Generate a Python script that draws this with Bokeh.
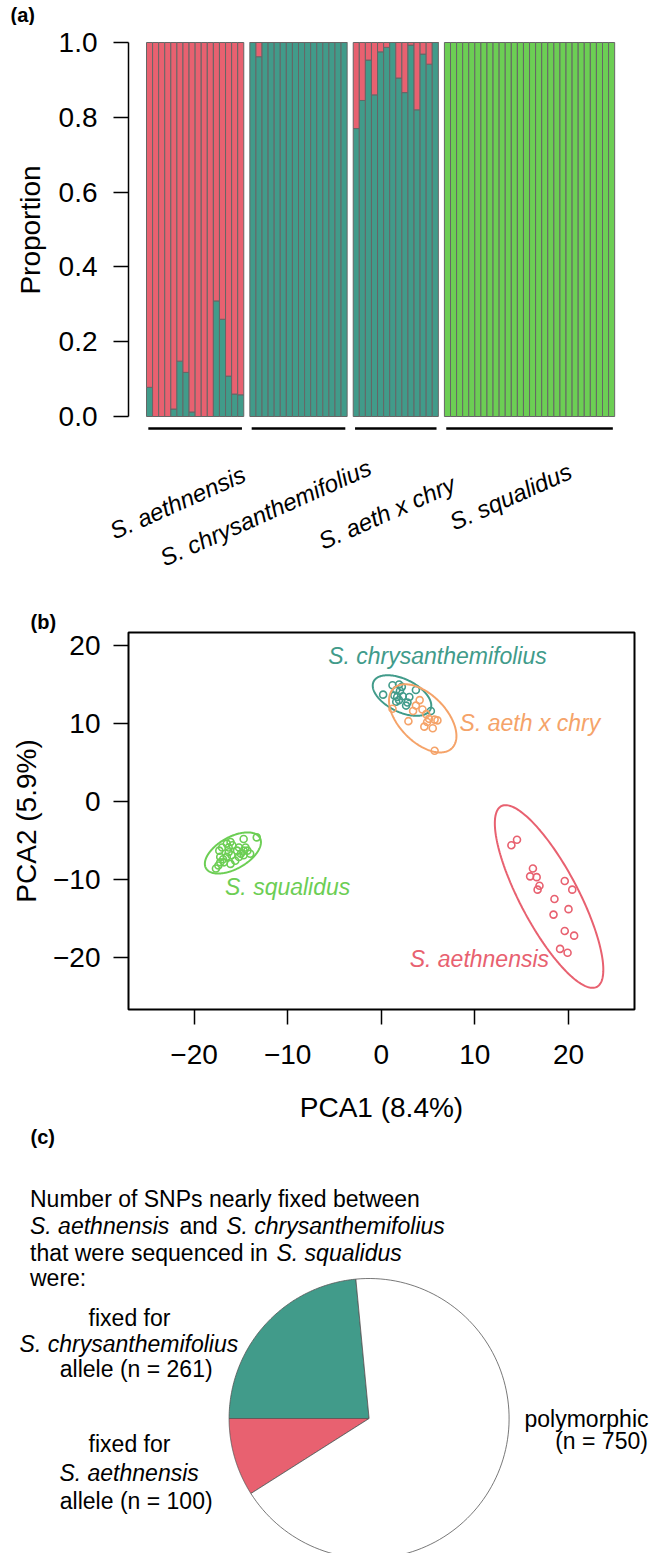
import numpy as np
from bokeh.plotting import figure
from bokeh.layouts import column
from bokeh.models import Range1d, FixedTicker, CustomJSTickFormatter, ColumnDataSource, Title
from bokeh.core.properties import value
from bokeh.embed import file_html
from bokeh.resources import INLINE

FONT = "Liberation Sans"
TEAL = "#419B8A"
RED = "#E86170"
GREEN = "#6CCE54"
ORANGE = "#F5A369"

# ---------------- data: panel (a) ----------------
group_names = ["S. aethnensis", "S. chrysanthemifolius", "S. aeth x chry", "S. squalidus"]
aeth_teal = [0.078, 0.0, 0.0, 0.0, 0.02, 0.148, 0.118, 0.012, 0.0, 0.0, 0.0, 0.309, 0.26, 0.108, 0.06, 0.058]
chry_teal = [1.0, 0.962, 1.0, 1.0, 1.0, 1.0, 1.0, 1.0, 1.0, 1.0, 1.0, 1.0, 1.0, 1.0, 1.0, 1.0]
hyb_teal = [0.77, 0.845, 0.953, 0.86, 0.975, 0.987, 1.0, 0.905, 0.866, 0.993, 0.82, 0.969, 0.942, 1.0]
squal_green = [1.0, 1.0, 1.0, 1.0, 1.0, 1.0, 1.0, 1.0, 1.0, 1.0, 1.0, 1.0, 1.0, 1.0,
               1.0, 1.0, 1.0, 1.0, 1.0, 1.0, 1.0, 1.0, 1.0, 1.0, 1.0, 1.0, 1.0, 1.0]
prop_ticks = [0.0, 0.2, 0.4, 0.6, 0.8, 1.0]

# ---------------- data: panel (b) ----------------
pc1_aeth = [13.9, 14.5, 16.2, 15.9, 16.6, 16.9, 16.7, 19.6, 20.4, 18.5, 18.4, 20.0, 19.6, 20.6, 19.1, 19.9]
pc2_aeth = [-5.6, -4.9, -8.6, -9.6, -9.7, -10.8, -11.3, -10.2, -11.3, -12.5, -14.5, -13.8, -16.6, -17.2, -18.9, -19.4]
pc1_chry = [0.2, 1.2, 1.9, 2.2, 1.6, 2.0, 3.7, 1.7, 2.3, 3.0, 2.8, 1.6, 2.65, 5.3, 1.9, 1.4]
pc2_chry = [13.7, 14.9, 15.0, 14.7, 14.3, 14.2, 14.3, 13.4, 13.5, 13.4, 12.7, 12.8, 12.3, 11.6, 13.0, 13.6]
pc1_hyb = [4.1, 3.7, 4.4, 3.4, 4.8, 5.1, 5.7, 6.0, 4.6, 5.5, 2.9, 5.7, 4.9, 1.2]
pc2_hyb = [13.0, 12.3, 11.8, 11.6, 11.2, 10.6, 10.5, 10.4, 9.6, 9.4, 10.3, 6.5, 10.2, 11.9]
pc1_squal = [-17.66, -17.4, -17.2, -17.3, -17.0, -16.5, -16.1, -16.3, -16.0, -15.6, -16.1, -16.8, -14.7, -14.5,
             -14.3, -15.0, -15.2, -14.7, -14.0, -13.3, -15.2, -16.3, -16.9, -17.2, -15.4, -15.9, -16.5, -14.7]
pc2_squal = [-8.6, -8.2, -7.1, -6.3, -5.9, -5.4, -5.2, -6.5, -6.9, -7.6, -8.0, -7.8, -4.8, -5.9,
             -6.3, -6.7, -7.1, -6.9, -6.7, -4.6, -5.9, -5.9, -7.4, -7.8, -6.3, -5.6, -7.1, -6.3]
pca_ticks = [-20, -10, 0, 10, 20]

# ---------------- data: panel (c) ----------------
pie_counts = [261, 100, 750]
pie_colors = [TEAL, RED, "#FFFFFF"]

# ---------------- layout constants (page pixels, page has no margin) ----------------
W = 660
FRAME_L, FRAME_R = 128, 634
SLOT_PX = 6.08
BAR_LEFT = 146
Y1_PX, Y0_PX = 42, 416
A0_BOT = 25              # strip with "(a)"
A1_BOT = 434             # bar frame bottom
A2_BOT = 600             # group labels strip bottom
B_FRAME_TOP, B_FRAME_BOT, B_BOT = 632, 1009, 1125
C_BOT = 1553


def blank(p):
    p.grid.visible = False
    p.outline_line_color = None


def txt(p, x, y, s, size="23px", style="normal", align="left", color="black", angle=0.0, dx=0):
    p.text(x=[x], y=[y], text=[s], text_font=value(FONT), text_font_size=size,
           text_font_style=style, text_align=align, text_baseline="middle",
           text_color=color, angle=angle, x_offset=dx)


# ================= panel (a) =================
teal_parts = [aeth_teal, chry_teal, hyb_teal]
slot = 0
xs, tops, bottoms, colors = [], [], [], []
group_slots = []
for gi in range(4):
    first = slot
    if gi < 3:
        for v in teal_parts[gi]:
            xs += [slot, slot]
            bottoms += [0.0, v]
            tops += [v, 1.0]
            colors += [TEAL, RED]
            slot += 1
    else:
        for v in squal_green:
            xs.append(slot)
            bottoms.append(0.0)
            tops.append(v)
            colors.append(GREEN)
            slot += 1
    group_slots.append((first, slot - 1))
    slot += 1
n_slots = slot - 1
pxu = float(Y0_PX - Y1_PX)


def ax_(px):
    return (px - BAR_LEFT) / SLOT_PX - 0.5


def ay_(py):
    return (Y0_PX - py) / pxu


# strip with "(a)"
pa0 = figure(width=W, height=A0_BOT, x_range=Range1d(0, W), y_range=Range1d(A0_BOT, 0),
             min_border=0, toolbar_location=None, output_backend="svg",
             x_axis_location=None, y_axis_location=None)
blank(pa0)
txt(pa0, 10, 14, "(a)", size="20px", style="bold")

# bars
pa1 = figure(width=W, height=A1_BOT - A0_BOT,
             x_range=Range1d(ax_(FRAME_L), ax_(FRAME_R)),
             y_range=Range1d(ay_(A1_BOT), ay_(A0_BOT)),
             min_border_left=FRAME_L, min_border_right=W - FRAME_R,
             min_border_top=0, min_border_bottom=0,
             toolbar_location=None, output_backend="svg", x_axis_location=None)
blank(pa1)
src = ColumnDataSource(dict(x=xs, top=tops, bottom=bottoms, color=colors))
pa1.vbar(x="x", top="top", bottom="bottom", width=1.0, fill_color="color",
         line_color="#666666", line_width=1, source=src)
ya = pa1.yaxis[0]
ya.ticker = FixedTicker(ticks=prop_ticks)
ya.formatter = CustomJSTickFormatter(code="return tick.toFixed(1)")
ya.bounds = (0, 1)
ya.axis_line_width = 1.5
ya.axis_line_color = "black"
ya.major_tick_line_width = 1.5
ya.major_tick_line_color = "black"
ya.major_tick_out = 15
ya.major_tick_in = 0
ya.minor_tick_out = 0
ya.minor_tick_in = 0
ya.major_label_standoff = 16
ya.major_label_text_font = FONT
ya.major_label_text_font_size = "28px"
ya.major_label_text_color = "black"
ya.axis_label = "Proportion"
ya.axis_label_text_font = FONT
ya.axis_label_text_font_size = "28px"
ya.axis_label_text_font_style = "normal"
ya.axis_label_text_color = "black"
ya.axis_label_standoff = 10

seg_x0 = [g[0] - 0.5 + 0.3 for g in group_slots]
seg_x1 = [g[1] + 0.5 - 0.3 for g in group_slots]
pa1.segment(x0=seg_x0, x1=seg_x1, y0=[ay_(428)] * 4, y1=[ay_(428)] * 4,
            line_color="black", line_width=2.5)

# group labels strip (full width)
pa2 = figure(width=W, height=A2_BOT - A1_BOT, x_range=Range1d(ax_(0), ax_(W)),
             y_range=Range1d(A2_BOT, A1_BOT), min_border=0,
             toolbar_location=None, output_backend="svg",
             x_axis_location=None, y_axis_location=None)
blank(pa2)
centers = [(g[0] + g[1]) / 2 for g in group_slots]
label_dx = [-17.6, -33, -9, -19]
label_py = [502, 512, 512, 496]
for c, name, dx, py in zip(centers, group_names, label_dx, label_py):
    txt(pa2, c, py, name, size="24px", style="italic", align="center",
        angle=np.deg2rad(24), dx=dx)

# ================= panel (b) =================
bx0, bx1 = -27.0, 27.05
by0, by1 = -26.67, 21.67
pb = figure(width=W, height=B_BOT - A2_BOT, x_range=Range1d(bx0, bx1), y_range=Range1d(by0, by1),
            min_border_left=FRAME_L, min_border_right=W - FRAME_R,
            min_border_top=B_FRAME_TOP - A2_BOT, min_border_bottom=B_BOT - B_FRAME_BOT,
            toolbar_location=None, output_backend="svg")
pb.grid.visible = False
pb.outline_line_color = "black"
pb.outline_line_width = 2
tb = Title(text="(b)", align="left", offset=30 - FRAME_L, standoff=0,
           text_font=FONT, text_font_size="20px", text_font_style="bold", text_color="black")
pb.add_layout(tb, "above")
fmt = CustomJSTickFormatter(code="return tick < 0 ? '\u2212' + Math.abs(tick) : String(tick)")
for axis, text in ((pb.xaxis[0], "PCA1 (8.4%)"), (pb.yaxis[0], "PCA2 (5.9%)")):
    axis.ticker = FixedTicker(ticks=pca_ticks)
    axis.formatter = fmt
    axis.axis_line_color = None
    axis.major_tick_line_width = 1.5
    axis.major_tick_line_color = "black"
    axis.major_tick_out = 15
    axis.major_tick_in = 0
    axis.minor_tick_out = 0
    axis.minor_tick_in = 0
    axis.major_label_text_font = FONT
    axis.major_label_text_font_size = "28px"
    axis.major_label_text_color = "black"
    axis.axis_label = text
    axis.axis_label_text_font = FONT
    axis.axis_label_text_font_size = "28px"
    axis.axis_label_text_font_style = "normal"
    axis.axis_label_text_color = "black"
pb.xaxis[0].major_label_standoff = 20
pb.xaxis[0].axis_label_standoff = 25
pb.yaxis[0].major_label_standoff = 13
pb.yaxis[0].axis_label_standoff = 8

ELL_R = [2.714, 2.714, 2.759, 2.590]
groups_pca = [(pc1_aeth, pc2_aeth, RED), (pc1_chry, pc2_chry, TEAL),
              (pc1_hyb, pc2_hyb, ORANGE), (pc1_squal, pc2_squal, GREEN)]
t = np.linspace(0, 2 * np.pi, 200)
for (px, py, col), r in zip(groups_pca, ELL_R):
    pts = np.vstack([px, py])
    mu = pts.mean(axis=1)
    L = np.linalg.cholesky(np.cov(pts))
    e = mu[:, None] + r * (L @ np.vstack([np.cos(t), np.sin(t)]))
    pb.line(e[0], e[1], line_color=col, line_width=2)
    pb.scatter(px, py, marker="circle", size=7, fill_color=None, line_color=col, line_width=1.6)

pca_labels = [("S. chrysanthemifolius", 6.0, 18.7, TEAL, "center"),
              ("S. aeth x chry", 8.37, 10.04, ORANGE, "left"),
              ("S. squalidus", -16.69, -10.9, GREEN, "left"),
              ("S. aethnensis", 10.48, -20.17, RED, "center")]
for s, x, y, col, al in pca_labels:
    txt(pb, x, y, s, style="italic", align=al, color=col)

# ================= panel (c) =================
pc = figure(width=W, height=C_BOT - B_BOT, x_range=Range1d(0, W), y_range=Range1d(C_BOT, B_BOT),
            min_border=0, toolbar_location=None, output_backend="svg",
            x_axis_location=None, y_axis_location=None)
blank(pc)
PIE_CX, PIE_CY, PIE_R = 368.6, 1418, 140
total = float(sum(pie_counts))
a0 = 180.0 - 360.0 * pie_counts[0] / total
pxs, pys = [], []
for cnt in pie_counts:
    a1 = a0 + 360.0 * cnt / total
    th = np.deg2rad(np.linspace(a0, a1, 120))
    pxs.append(list(np.r_[PIE_CX, PIE_CX + PIE_R * np.cos(th), PIE_CX]))
    pys.append(list(np.r_[PIE_CY, PIE_CY - PIE_R * np.sin(th), PIE_CY]))
    a0 = a1
pc.patches(pxs, pys, fill_color=pie_colors, line_color="#555555", line_width=0.8)

txt(pc, 30, 1136, "(c)", size="20px", style="bold")
txt(pc, 29.5, 1198, "Number of SNPs nearly fixed between")
txt(pc, 29.5, 1225, "S. aethnensis", style="italic")
txt(pc, 179, 1225, "and")
txt(pc, 225.7, 1225, "S. chrysanthemifolius", style="italic")
txt(pc, 29.5, 1252, "that were sequenced in")
txt(pc, 276, 1252, "S. squalidus", style="italic")
txt(pc, 29.5, 1277, "were:")
txt(pc, 129, 1317, "fixed for", align="center")
txt(pc, 128.4, 1343, "S. chrysanthemifolius", style="italic", align="center")
txt(pc, 135.7, 1368, "allele (n = 261)", align="center")
txt(pc, 129, 1443, "fixed for", align="center")
txt(pc, 128.6, 1472, "S. aethnensis", style="italic", align="center")
txt(pc, 135.7, 1500, "allele (n = 100)", align="center")
txt(pc, 524, 1418, "polymorphic")
txt(pc, 554.7, 1440, "(n = 750)")

layout = column(column(pa0), column(pa1), column(pa2), column(pb), column(pc), spacing=0)
open("out.html", "w").write(file_html(layout, INLINE))
